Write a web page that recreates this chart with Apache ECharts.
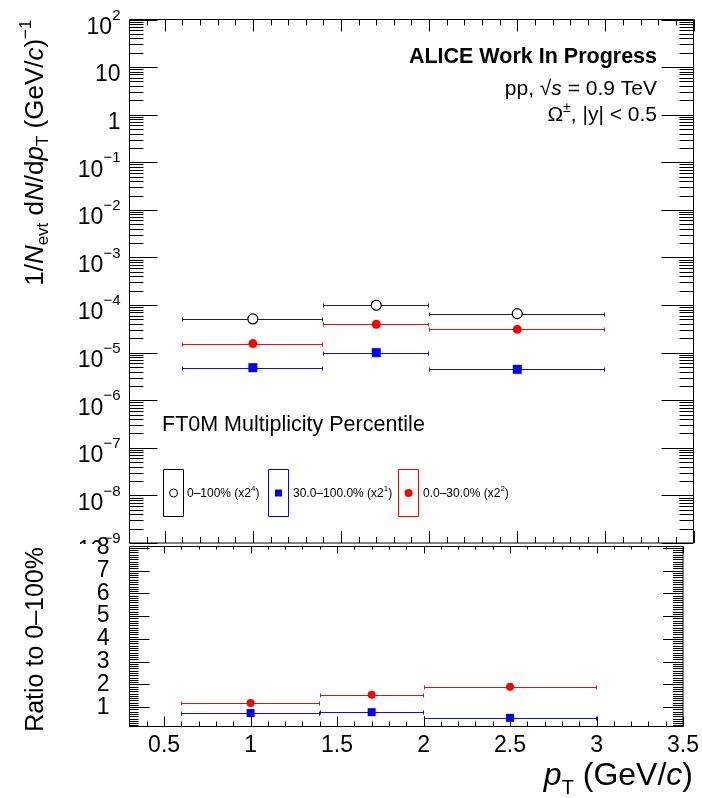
<!DOCTYPE html>
<html>
<head>
<meta charset="utf-8">
<script src="https://cdn.jsdelivr.net/npm/echarts@6/dist/echarts.min.js"></script>
<style>html,body{margin:0;padding:0;background:#fff}#c{width:702px;height:798px}</style>
</head>
<body>
<div id="c"></div>
<script>
// ---------------- data ----------------
const binLow = [0.6, 1.4, 2.0];
const binHigh = [1.4, 2.0, 3.0];
const ptCenter = [1.0, 1.7, 2.5];

// 0-100% (x2^4)
const yieldAll = [5.1e-5, 9.9e-5, 6.6e-5];
const yieldAllErr = [0.3e-5, 0.5e-5, 0.4e-5];
// 0.0-30.0% (x2^2)
const yieldHigh = [1.55e-5, 3.94e-5, 3.09e-5];
const yieldHighErr = [0.15e-5, 0.2e-5, 0.25e-5];
// 30.0-100.0% (x2^1)
const yieldLow = [4.83e-6, 1.0e-5, 4.46e-6];
const yieldLowErr = [0.2e-6, 0.3e-6, 0.3e-6];

// ratios to 0-100%
const ratioHigh = [1.18, 1.54, 1.90];
const ratioHighErr = [0.15, 0.07, 0.17];
const ratioLow = [0.74, 0.78, 0.53];
const ratioLowErr = [0.04, 0.03, 0.04];

const legendLabels = ['0\u2013100% (x2', '30.0\u2013100.0% (x2', '0.0\u201330.0% (x2'];
const legendPowers = ['4', '1', '2'];

const xTickLabels = [0.5, 1, 1.5, 2, 2.5, 3, 3.5];
const yTopTickLabels = [1e-9, 1e-8, 1e-7, 1e-6, 1e-5, 1e-4, 1e-3, 1e-2, 1e-1, 1, 10, 100];
const yBotTickLabels = [1, 2, 3, 4, 5, 6, 7, 8];

// minor tick positions (axis decoration)
const xMinorTicks = [];
for (let k = 4; k <= 34; k++) { if (k % 5 !== 0) xMinorTicks.push(k / 10); }
const yTopMinorTicks = [];
for (let e = -9; e < 2; e++) { for (let m = 2; m <= 9; m++) yTopMinorTicks.push(m * Math.pow(10, e)); }
const yBotMinorTicks = [];
for (let k = 2; k <= 80; k++) { if (k % 10 !== 0) yBotMinorTicks.push(k / 10); }

// ---------------- helpers ----------------
const F = '"Liberation Sans", Arial, Helvetica, sans-serif';
const BLACK = '#000000', RED = '#ff0000', BLUE = '#0000ff';

function expLabel(v) {
  const e = Math.round(Math.log10(v));
  if (e === 0) return '{b|1}';
  if (e === 1) return '{b|10}';
  return '{b|10}{s|' + (e < 0 ? '\u2212' + (-e) : String(e)) + '}';
}

function errData(y, err) {
  return ptCenter.map((x, i) => [x, y[i], binLow[i], binHigh[i], y[i] - err[i], y[i] + err[i]]);
}
function errRender(color) {
  return function (params, api) {
    const a = api.coord([api.value(2), api.value(1)]);
    const b = api.coord([api.value(3), api.value(1)]);
    const lo = api.coord([api.value(0), api.value(4)]);
    const hi = api.coord([api.value(0), api.value(5)]);
    const y = Math.round(a[1]) + 0.5;
    const xa = Math.round(a[0]) + 0.5, xb = Math.round(b[0]) - 0.5, xc = Math.round(lo[0]) + 0.5;
    const st = { stroke: color, lineWidth: 1 };
    return {
      type: 'group',
      children: [
        { type: 'line', shape: { x1: xa, y1: y, x2: xb, y2: y }, style: st },
        { type: 'line', shape: { x1: xa, y1: y - 2, x2: xa, y2: y + 2 }, style: st },
        { type: 'line', shape: { x1: xb, y1: y - 2, x2: xb, y2: y + 2 }, style: st },
        { type: 'line', shape: { x1: xc, y1: lo[1], x2: xc, y2: hi[1] }, style: st }
      ]
    };
  };
}
function errSeries(grid, y, err, color) {
  return {
    type: 'custom', xAxisIndex: grid, yAxisIndex: grid, silent: true, z: 3,
    renderItem: errRender(color), data: errData(y, err),
    encode: { x: [0, 2, 3], y: [1, 4, 5] }
  };
}
function markSeries(grid, y, symbol, size, itemStyle) {
  return {
    type: 'scatter', xAxisIndex: grid, yAxisIndex: grid, silent: true, z: 5,
    symbol: symbol, symbolSize: size, itemStyle: Object.assign({ opacity: 1 }, itemStyle),
    data: ptCenter.map((x, i) => [x, y[i]])
  };
}
// tick marks: [x, y, side(0 left,1 right,2 top,3 bottom), length]
function tickItems(values, axis, side, len) {
  return values.map(v => axis === 'y' ? [1, v, side, len] : [v, 1, side, len]);
}
function tickRender(params, api) {
  const cs = params.coordSys;
  const side = api.value(2), len = api.value(3);
  const p = api.coord([api.value(0), api.value(1)]);
  let s;
  if (side === 0 || side === 1) {
    const y = Math.round(p[1]) + 0.5;
    const x0 = side === 0 ? cs.x : cs.x + cs.width;
    s = { x1: x0, y1: y, x2: side === 0 ? x0 + len : x0 - len, y2: y };
  } else {
    const x = Math.round(p[0]) + 0.5;
    const y0 = side === 2 ? cs.y : cs.y + cs.height;
    s = { x1: x, y1: y0, x2: x, y2: side === 2 ? y0 + len : y0 - len };
  }
  return { type: 'line', shape: s, style: { stroke: '#000', lineWidth: 1 } };
}
function tickSeries(grid, items) {
  return {
    type: 'custom', xAxisIndex: grid, yAxisIndex: grid, silent: true, z: 4,
    renderItem: tickRender, data: items
  };
}

const topTicks = [].concat(
  tickItems(yTopTickLabels, 'y', 0, 28), tickItems(yTopTickLabels, 'y', 1, 32),
  tickItems(yTopMinorTicks, 'y', 0, 14), tickItems(yTopMinorTicks, 'y', 1, 14),
  tickItems(xTickLabels, 'x', 2, 12), tickItems(xTickLabels, 'x', 3, 12),
  tickItems(xMinorTicks, 'x', 2, 6), tickItems(xMinorTicks, 'x', 3, 6)
);
const botTicks = [].concat(
  tickItems(yBotTickLabels, 'y', 0, 20), tickItems(yBotTickLabels, 'y', 1, 20),
  tickItems(yBotMinorTicks, 'y', 0, 9), tickItems(yBotMinorTicks, 'y', 1, 10),
  tickItems(xTickLabels, 'x', 2, 7), tickItems(xTickLabels, 'x', 3, 10),
  tickItems(xMinorTicks, 'x', 2, 3), tickItems(xMinorTicks, 'x', 3, 5)
);

// ---------------- graphics (titles, annotations, legend) ----------------
// all tokens top-aligned inside one row; vertical offsets set by padding-top
function titleRich(fs, sfs, rowH, pMain, pSub, pSup) {
  const base = { lineHeight: rowH, verticalAlign: 'top', fontFamily: F, fill: '#000', color: '#000' };
  return {
    m: Object.assign({ fontSize: fs, padding: [pMain, 0, 0, 0] }, base),
    mi: Object.assign({ fontSize: fs, padding: [pMain, 0, 0, 0], fontStyle: 'italic' }, base),
    sub: Object.assign({ fontSize: sfs, padding: [pSub, 0, 0, 0] }, base),
    sup: Object.assign({ fontSize: sfs, padding: [pSup, 0, 0, 0] }, base)
  };
}
const annRich = titleRich(21, 14, 28, 4, 15, 0);
const legRich = titleRich(12, 8, 16, 3, 9, 0);
const legendBoxes = [
  { x: 163.5, color: BLACK, tx: 187 },
  { x: 268.5, color: BLUE, tx: 293 },
  { x: 398.5, color: RED, tx: 423 }
];
const graphics = [
  // cover for the lower pad (hides the lower part of the 10^-9 label like the original)
  { type: 'rect', z: 1, shape: { x: 0, y: 544, width: 128, height: 254 }, style: { fill: '#fff' } },
  { type: 'text', z: 10, x: 36, y: 19.5, rotation: Math.PI / 2,
    style: { text: '{m|1/}{mi|N}{sub|evt}{m| d}{mi|N}{m|/d}{mi|p}{sub|T}{m| (GeV/}{mi|c}{m|)}{sup|\u22121}',
      rich: titleRich(26, 17, 36, 5, 17, 0), align: 'right', verticalAlign: 'middle', fontFamily: F, fontSize: 26, fill: '#000' } },
  { type: 'text', z: 10, x: 36, y: 547, rotation: Math.PI / 2,
    style: { text: 'Ratio to 0\u2013100%', align: 'right', verticalAlign: 'middle', fontFamily: F, fontSize: 25, fill: '#000' } },
  { type: 'text', z: 10, x: 693, y: 777,
    style: { text: '{mi|p}{sub|T}{m| (GeV/}{mi|c}{m|)}', rich: titleRich(32, 20, 42, 4, 22, 0), align: 'right', verticalAlign: 'middle', fontFamily: F, fontSize: 32, fill: '#000' } },
  { type: 'text', z: 10, x: 657, y: 57,
    style: { text: 'ALICE Work In Progress', align: 'right', verticalAlign: 'middle', fontFamily: F, fontSize: 21.5, fontWeight: 'bold', fill: '#000' } },
  { type: 'text', z: 10, x: 657, y: 89,
    style: { text: '{m|pp, \u221A}{mi|s}{m| = 0.9 TeV}', rich: annRich, align: 'right', verticalAlign: 'middle', fontFamily: F, fontSize: 21, fill: '#000' } },
  { type: 'text', z: 10, x: 657, y: 115,
    style: { text: '{m|\u03A9}{sup|\u00B1}{m|, |y| < 0.5}', rich: annRich, align: 'right', verticalAlign: 'middle', fontFamily: F, fontSize: 21, fill: '#000' } },
  { type: 'text', z: 10, x: 162, y: 425,
    style: { text: 'FT0M Multiplicity Percentile', align: 'left', verticalAlign: 'middle', fontFamily: F, fontSize: 21.5, fill: '#000' } }
];
legendBoxes.forEach((b, i) => {
  graphics.push({ type: 'rect', z: 10, shape: { x: b.x, y: 469.5, width: 20, height: 47 }, style: { fill: 'none', stroke: b.color, lineWidth: 1 } });
  graphics.push({ type: 'text', z: 10, x: b.tx, y: 493,
    style: { text: '{m|' + legendLabels[i] + '}{sup|' + legendPowers[i] + '}{m|)}', rich: legRich, align: 'left', verticalAlign: 'middle', fontFamily: F, fontSize: 12, fill: '#000' } });
});
graphics.push({ type: 'circle', z: 11, shape: { cx: 173.5, cy: 493, r: 4 }, style: { fill: '#fff', stroke: BLACK, lineWidth: 1 } });
graphics.push({ type: 'rect', z: 11, shape: { x: 275, y: 489.5, width: 7, height: 7 }, style: { fill: BLUE } });
graphics.push({ type: 'circle', z: 11, shape: { cx: 408.5, cy: 493, r: 4 }, style: { fill: RED } });

// ---------------- chart ----------------
const chart = echarts.init(document.getElementById('c'), null, { renderer: 'canvas' });
const noAxisDeco = { axisLine: { show: false }, axisTick: { show: false }, splitLine: { show: false }, minorTick: { show: false }, minorSplitLine: { show: false } };
const botLabel = vals => ({ customValues: vals, fontSize: 23, margin: 20, color: '#000', fontFamily: F,
  hideOverlap: false, showMinLabel: true, showMaxLabel: true });
const option = {
  animation: false,
  backgroundColor: '#fff',
  textStyle: { fontFamily: F },
  grid: [
    { left: 129.5, top: 19.5, width: 564, height: 523.5, show: true, borderColor: '#000', borderWidth: 1, backgroundColor: 'rgba(0,0,0,0)' },
    { left: 129.5, top: 546.5, width: 564, height: 180, show: true, borderColor: '#000', borderWidth: 1, backgroundColor: 'rgba(0,0,0,0)' }
  ],
  xAxis: [
    Object.assign({ type: 'value', gridIndex: 0, min: 0.3, max: 3.5, axisLabel: { show: false } }, noAxisDeco),
    Object.assign({ type: 'value', gridIndex: 1, min: 0.3, max: 3.5, z: 3,
      axisLabel: { customValues: xTickLabels, fontSize: 23, color: '#000', margin: 8, fontFamily: F, hideOverlap: false,
        showMinLabel: true, showMaxLabel: true, formatter: v => String(+(+v).toFixed(2)) } }, noAxisDeco)
  ],
  yAxis: [
    Object.assign({ type: 'log', logBase: 10, gridIndex: 0, min: 1e-9, max: 1e2, z: 0,
      axisLabel: { customValues: yTopTickLabels, formatter: expLabel, margin: 9, color: '#000', showMinLabel: true, showMaxLabel: true, hideOverlap: false,
        rich: {
          b: { fontSize: 23, lineHeight: 23, padding: [8, 0, 0, 0], verticalAlign: 'top', fontFamily: F, color: '#000' },
          s: { fontSize: 15, lineHeight: 15, verticalAlign: 'top', fontFamily: F, color: '#000' }
        } } }, noAxisDeco),
    // odd labels (1,3,5,7)
    Object.assign({ type: 'value', gridIndex: 1, position: 'left', offset: 0, min: 0.15, max: 8.06, z: 3,
      axisLabel: botLabel(yBotTickLabels.filter((v, i) => i % 2 === 0)) }, noAxisDeco),
    // even labels (2,4,6,8) on an identical axis, so the tight spacing is not thinned out
    Object.assign({ type: 'value', gridIndex: 1, position: 'left', offset: 0, min: 0.15, max: 8.06, z: 3,
      axisLabel: botLabel(yBotTickLabels.filter((v, i) => i % 2 === 1)) }, noAxisDeco)
  ],
  graphic: graphics,
  series: [
    tickSeries(0, topTicks),
    tickSeries(1, botTicks),
    errSeries(0, yieldAll, yieldAllErr, '#222222'),
    errSeries(0, yieldHigh, yieldHighErr, '#e01010'),
    errSeries(0, yieldLow, yieldLowErr, '#1010d0'),
    markSeries(0, yieldAll, 'circle', 10, { color: '#fff', borderColor: '#000', borderWidth: 1.2 }),
    markSeries(0, yieldHigh, 'circle', 9, { color: RED }),
    markSeries(0, yieldLow, 'rect', 9, { color: BLUE }),
    errSeries(1, ratioHigh, ratioHighErr, '#e01010'),
    errSeries(1, ratioLow, ratioLowErr, '#1010d0'),
    markSeries(1, ratioHigh, 'circle', 8, { color: RED }),
    markSeries(1, ratioLow, 'rect', 8, { color: BLUE })
  ]
};
chart.setOption(option);
</script>
</body>
</html>
